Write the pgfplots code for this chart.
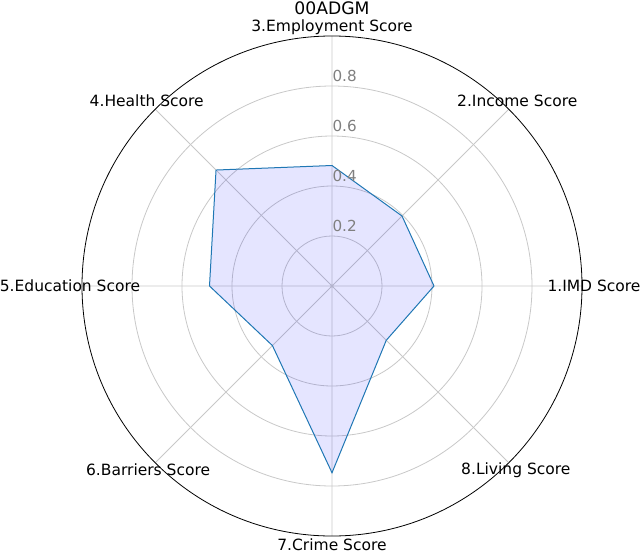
\documentclass[border=0pt]{standalone}
\usepackage{pgfplots}
\pgfplotsset{compat=1.18}
\usepgfplotslibrary{polar}
\usetikzlibrary{calc}
\usepackage{fontspec}
\setmainfont{DejaVu Sans}
\definecolor{lineblue}{RGB}{31,119,180}
\definecolor{gridgray}{RGB}{200,200,200}
\definecolor{ticktxt}{RGB}{128,128,128}
\tikzset{
  catlab/.style={font=\fontsize{7.75}{9}\selectfont, inner sep=0pt},
  rlab/.style={font=\fontsize{7.6}{9}\selectfont, text=ticktxt, inner sep=0pt,
               xshift=6.3pt, yshift=5pt},
}

\begin{document}
\begin{tikzpicture}
  \begin{polaraxis}[
      scale only axis,
      width=250pt, height=250pt,
      ymin=0, ymax=1,
      xtick={0,45,...,315},
      ytick={0.2,0.4,0.6,0.8},
      xticklabels={}, yticklabels={},
      major tick length=0pt,
      grid=major,
      major grid style={gridgray, line width=0.4pt},
      separate axis lines,
      x axis line style={black, line width=0.4pt},
      y axis line style={draw=none},
      clip=false,
    ]
    \addplot[draw=lineblue, line width=0.5pt, fill=blue, fill opacity=0.1]
      coordinates {(0,0.408) (45,0.396) (90,0.482) (135,0.656) (180,0.490)
                   (225,0.337) (270,0.747) (315,0.307) (360,0.408)};

    \coordinate (c) at (axis cs:0,0);
    % category labels
    \node[catlab] at (axis cs:0,1.048)   {1.IMD Score};
    \node[catlab] at (axis cs:45,1.048)  {2.Income Score};
    \node[catlab] at (axis cs:90,1.035)  {3.Employment Score};
    \node[catlab] at (axis cs:135,1.048) {4.Health Score};
    \node[catlab] at (axis cs:180,1.048) {5.Education Score};
    \node[catlab] at (axis cs:225,1.04)  {6.Barriers Score};
    \node[catlab] at (axis cs:270,1.035) {7.Crime Score};
    \node[catlab] at (axis cs:315,1.04)  {8.Living Score};
    % radial tick labels
    \node[rlab] at (axis cs:90,0.2) {0.2};
    \node[rlab] at (axis cs:90,0.4) {0.4};
    \node[rlab] at (axis cs:90,0.6) {0.6};
    \node[rlab] at (axis cs:90,0.8) {0.8};
    \node[font=\fontsize{8.6}{10}\selectfont, inner sep=0pt] at (axis cs:90,1.11) {00ADGM};
  \end{polaraxis}
  \pgfresetboundingbox
  \path ($(c)+(-166pt,-133pt)$) rectangle ($(c)+(154pt,143pt)$);
\end{tikzpicture}
\end{document}
